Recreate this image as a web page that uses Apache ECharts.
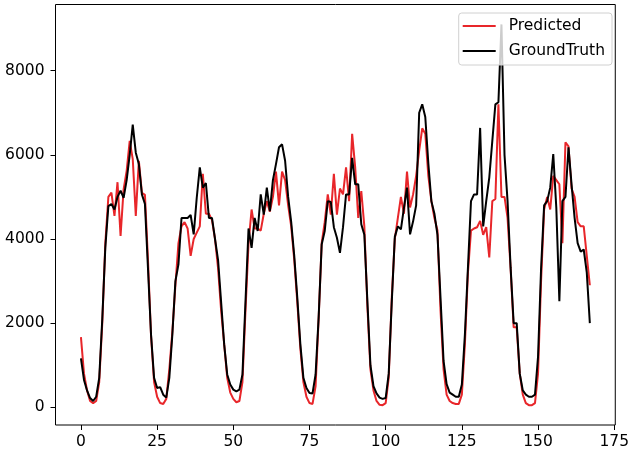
<!DOCTYPE html>
<html style="height: 100%">
<head>
<meta charset="utf-8">
<script src="https://cdn.jsdelivr.net/npm/echarts@6/dist/echarts.min.js"></script>
</head>
<body style="height: 100%; margin: 0">
<div id="container" style="width: 632px; height: 457px"></div>
<script>
// hourly values, 7 days x 24 hours
var predicted = [
  1667, 800, 400, 150, 100, 150, 600, 2000, 3900, 5000, 5100, 4550, 5350, 4070, 5180, 5620, 6330, 5900, 4550, 5860, 5100, 5050, 3500, 1700,
  600, 250, 100, 80, 200, 900, 1800, 2900, 3900, 4300, 4400, 4250, 3600, 4000, 4150, 4300, 5550, 4600, 4600, 4450, 4000, 3300, 2300, 1500,
  700, 350, 200, 120, 150, 600, 2300, 3900, 4700, 4250, 4250, 4200, 4600, 4900, 4650, 5000, 5600, 4800, 5600, 5400, 4800, 4300, 3500, 2500,
  1400, 600, 250, 100, 80, 500, 2100, 3900, 4400, 5060, 4580, 5550, 4580, 5200, 5060, 5700, 4900, 6500, 5700, 4500, 5140, 4300, 2400, 900,
  400, 150, 60, 50, 100, 700, 2600, 4000, 4500, 5000, 4600, 5600, 4750, 5060, 5500, 6100, 6630, 6500, 5500, 4900, 4500, 4200, 2300, 900,
  300, 150, 100, 80, 80, 300, 1500, 3200, 4200, 4250, 4280, 4430, 4100, 4280, 3560, 4900, 4950, 7200, 5000, 5000, 4500, 3300, 1900, 1900,
  800, 300, 100, 50, 50, 100, 800, 3000, 4700, 5000, 4700, 5500, 5400, 5300, 3900, 6300, 6200, 5200, 5000, 4400, 4300, 4300, 3600, 2900
];
var groundTruth = [
  1160, 650, 400, 220, 150, 250, 700, 2100, 3800, 4780, 4830, 4700, 5000, 5150, 4980, 5400, 6000, 6720, 6050, 5780, 5060, 4830, 3300, 1730,
  700, 460, 480, 300, 230, 700, 1730, 3000, 3400, 4500, 4500, 4500, 4570, 4110, 4980, 5700, 5220, 5330, 4500, 4500, 4000, 3500, 2500, 1500,
  780, 540, 420, 380, 420, 780, 2520, 4250, 3790, 4500, 4190, 5060, 4580, 5220, 4660, 5400, 5780, 6180, 6250, 5860, 5000, 4400, 3600, 2600,
  1500, 700, 460, 340, 330, 780, 2130, 3870, 4190, 4900, 4880, 4280, 4030, 3670, 4280, 5060, 5060, 5930, 5300, 5300, 4350, 4100, 2520, 1000,
  500, 330, 230, 200, 220, 800, 2500, 4050, 4300, 4230, 4740, 5220, 4110, 4420, 4800, 7000, 7200, 6900, 5800, 4900, 4600, 4100, 2600, 1100,
  550, 350, 300, 250, 250, 540, 1730, 3320, 4900, 5060, 5060, 6640, 4300, 4900, 5460, 6330, 7200, 7250, 9100, 6000, 4900, 3330, 2000, 2000,
  800, 400, 300, 250, 250, 300, 1200, 3300, 4800, 4900, 5220, 6020, 4740, 2520, 4900, 5000, 6180, 5300, 4500, 3900, 3700, 3750, 3200, 2000
];
var xTicks = [0, 25, 50, 75, 100, 125, 150, 175];
var yTicks = [0, 2000, 4000, 6000, 8000];

var dom = document.getElementById("container");
var myChart = echarts.init(dom);
var font = 'DejaVu Sans';

var option = {
    animation: false,
    grid: {
        left: 55.5, right: 11.5, top: 4.5, bottom: 32,
        show: true, borderColor: '#000', borderWidth: 1
    },
    legend: {
        orient: 'vertical',
        right: 20, top: 13,
        data: ['Predicted', 'GroundTruth'],
        icon: 'rect',
        itemWidth: 33, itemHeight: 2, itemGap: 9,
        padding: [5, 7, 6, 4],
        backgroundColor: 'rgba(255,255,255,0.8)',
        borderColor: '#d0d0d0', borderWidth: 1, borderRadius: 3,
        textStyle: { fontFamily: font, fontSize: 15.5, color: '#000', lineHeight: 16, padding: [0, 0, 0, 8] }
    },
    xAxis: {
        type: 'value', min: -8.35, max: 175.35,
        splitLine: { show: false },
        axisLine: { show: false, onZero: false },
        axisTick: { show: true, length: 5, customValues: xTicks, lineStyle: { color: '#000' } },
        axisLabel: { customValues: xTicks, margin: 9, fontFamily: font, fontSize: 15.5, color: '#000' }
    },
    yAxis: {
        type: 'value', min: -421, max: 9573,
        splitLine: { show: false },
        axisLine: { show: false, onZero: false },
        axisTick: { show: true, length: 5, customValues: yTicks, lineStyle: { color: '#000' } },
        axisLabel: {
            customValues: yTicks, margin: 11, fontFamily: font, fontSize: 15.5, color: '#000',
            formatter: function (v) { return String(v); }
        }
    },
    series: [{
        name: 'Predicted',
        type: 'line',
        symbol: 'none',
        data: predicted.map(function (v, i) { return [i, v]; }),
        lineStyle: { color: '#e8262a', width: 2 },
        itemStyle: { color: '#e8262a' }
    }, {
        name: 'GroundTruth',
        type: 'line',
        symbol: 'none',
        data: groundTruth.map(function (v, i) { return [i, v]; }),
        lineStyle: { color: '#000', width: 2 },
        itemStyle: { color: '#000' }
    }]
};

myChart.setOption(option);
</script>
</body>
</html>
